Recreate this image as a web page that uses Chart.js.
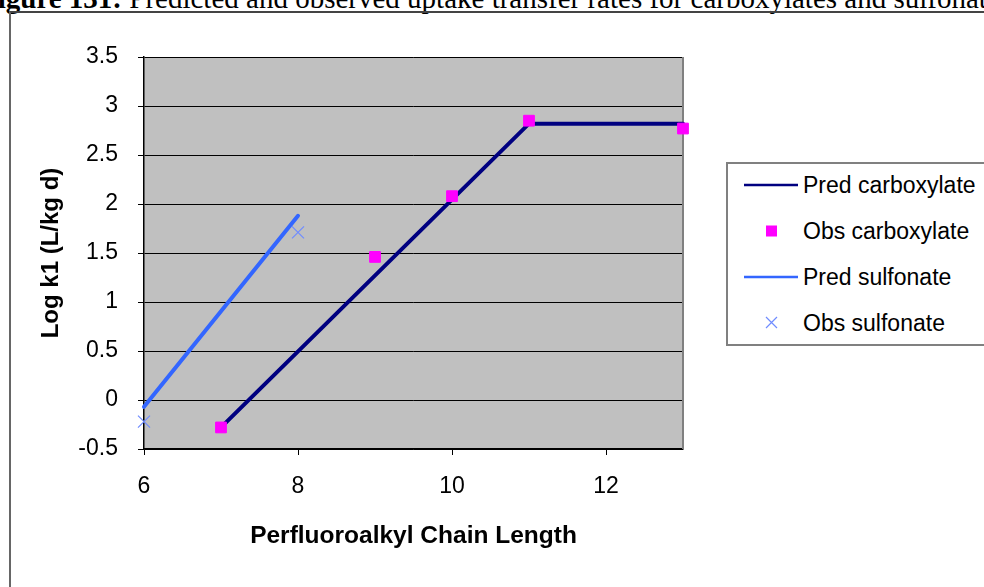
<!DOCTYPE html>
<html>
<head>
<meta charset="utf-8">
<script src="https://cdn.jsdelivr.net/npm/chart.js@4/dist/chart.umd.min.js"></script>
<style>
  html, body { margin: 0; padding: 0; background: #fff; }
  body { width: 984px; height: 587px; position: relative; overflow: hidden; }
  #caption {
    position: absolute; left: -20px; top: -17px; white-space: nowrap;
    font-family: "Liberation Serif", "Times New Roman", serif;
    font-size: 29px; line-height: 30px; color: #000;
  }
  #frame {
    position: absolute; left: 9px; top: 11px; width: 1200px; height: 800px;
    border-left: 2px solid #666; border-top: 2px solid #444;
  }
  #wrap { position: absolute; left: 0; top: 0; width: 984px; height: 587px; }
  #legend {
    position: absolute; left: 726px; top: 162px; width: 300px; height: 180px;
    border: 2px solid #808080; background: #fff;
    font-family: "Liberation Sans", Arial, sans-serif; font-size: 23px; color: #000;
  }
  .item { position: absolute; left: 0; height: 30px; width: 300px; }
  .item .sym { position: absolute; left: 15px; top: 0; width: 56px; height: 30px; }
  .item .txt { position: absolute; left: 75px; top: 0; line-height: 30px; white-space: nowrap; }
</style>
</head>
<body>
<div id="caption"><b>Figure 131:</b> Predicted and observed uptake transfer rates for carboxylates and sulfonates</div>
<div id="frame"></div>
<div id="wrap"><canvas id="chart" width="984" height="587"></canvas></div>
<div id="legend"></div>
<script>
// chart values
const seriesLabels = ["Pred carboxylate", "Obs carboxylate", "Pred sulfonate", "Obs sulfonate"];
const xTicks = [6, 8, 10, 12];

const predCarbX = [7, 11, 13];
const predCarbY = [-0.28, 2.82, 2.82];

const obsCarbX = [7, 9, 10, 11, 13];
const obsCarbY = [-0.28, 1.46, 2.08, 2.85, 2.77];

const predSulfX = [6, 8];
const predSulfY = [-0.07, 1.88];

const obsSulfX = [6, 8];
const obsSulfY = [-0.22, 1.71];

const toPoints = (xs, ys) => xs.map((x, i) => ({ x: x, y: ys[i] }));

Chart.defaults.font.family = "'Liberation Sans', Arial, sans-serif";
Chart.defaults.color = "#000";

// grey plot area and right border, like the spreadsheet chart
const plotBackground = {
  id: "plotBackground",
  beforeDraw(chart) {
    const { ctx, chartArea: a } = chart;
    ctx.save();
    ctx.fillStyle = "#C0C0C0";
    ctx.fillRect(a.left, a.top, a.right - a.left, a.bottom - a.top);
    ctx.restore();
  },
  beforeDatasetsDraw(chart) {
    const { ctx, chartArea: a } = chart;
    ctx.save();
    ctx.strokeStyle = "#808080";
    ctx.lineWidth = 2;
    ctx.beginPath();
    ctx.moveTo(a.right, a.top);
    ctx.lineTo(a.right, a.bottom);
    ctx.stroke();
    ctx.restore();
  },
};

const datasets = [
  {
    label: seriesLabels[0],
    data: toPoints(predCarbX, predCarbY),
    showLine: true,
    borderColor: "#000080",
    backgroundColor: "#000080",
    borderWidth: 4,
    borderCapStyle: "round",
    pointRadius: 0,
    clip: false,
    order: 2,
  },
  {
    label: seriesLabels[1],
    data: toPoints(obsCarbX, obsCarbY),
    showLine: false,
    pointStyle: "rect",
    pointRadius: 7.6,
    pointBackgroundColor: "#FF00FF",
    pointBorderColor: "#FF00FF",
    pointBorderWidth: 1,
    clip: false,
    order: 1,
  },
  {
    label: seriesLabels[2],
    data: toPoints(predSulfX, predSulfY),
    showLine: true,
    borderColor: "#3366FF",
    backgroundColor: "#3366FF",
    borderWidth: 4,
    borderCapStyle: "round",
    pointRadius: 0,
    clip: false,
    order: 2,
  },
  {
    label: seriesLabels[3],
    data: toPoints(obsSulfX, obsSulfY),
    showLine: false,
    pointStyle: "crossRot",
    pointRadius: 8.5,
    pointBorderColor: "#6F8CFF",
    pointBorderWidth: 1.2,
    clip: false,
    order: 1,
  },
];

const chart = new Chart(document.getElementById("chart").getContext("2d"), {
  type: "scatter",
  data: { datasets: datasets },
  plugins: [plotBackground],
  options: {
    responsive: false,
    animation: false,
    layout: { padding: { top: 57, right: 301, bottom: 0, left: 0 } },
    plugins: { legend: { display: false }, tooltip: { enabled: false } },
    scales: {
      x: {
        type: "linear",
        min: 6,
        max: 13,
        afterBuildTicks: (scale) => {
          scale.ticks = xTicks.map((v) => ({ value: v }));
        },
        afterFit: (scale) => {
          scale.height = 138;
        },
        grid: { drawOnChartArea: false, color: "#000", tickLength: 6 },
        border: { color: "#000", width: 1.5 },
        ticks: { font: { size: 23 }, padding: 18, maxRotation: 0 },
        title: {
          display: true,
          text: "Perfluoroalkyl Chain Length",
          font: { size: 24.5, weight: "bold" },
          padding: { top: 0, bottom: 36 },
        },
      },
      y: {
        type: "linear",
        min: -0.5,
        max: 3.5,
        afterFit: (scale) => {
          scale.width = 144;
        },
        grid: { color: "#000", lineWidth: 1, tickLength: 6 },
        border: { color: "#000", width: 1.5 },
        ticks: {
          stepSize: 0.5,
          font: { size: 23 },
          padding: 20,
          callback: (v) => String(Math.round(v * 10) / 10),
        },
        title: {
          display: true,
          text: "Log k1 (L/kg d)",
          font: { size: 24, weight: "bold" },
          padding: { top: 37, bottom: 0 },
        },
      },
    },
  },
});

// legend built from the chart's own datasets, in series order
function buildLegend(chart) {
  const box = document.getElementById("legend");
  const rowTops = [6, 52, 98, 144];
  seriesLabels.forEach((label, i) => {
    const ds = chart.data.datasets.find((d) => d.label === label);
    const item = document.createElement("div");
    item.className = "item";
    item.style.top = rowTops[i] + "px";
    let sym;
    if (ds.showLine) {
      sym = '<svg class="sym" width="56" height="30"><line x1="1" y1="15" x2="55" y2="15" stroke="' +
        ds.borderColor + '" stroke-width="2.5"/></svg>';
    } else if (ds.pointStyle === "rect") {
      sym = '<svg class="sym" width="56" height="30"><rect x="23" y="9.5" width="11" height="11" fill="' +
        ds.pointBackgroundColor + '"/></svg>';
    } else {
      sym = '<svg class="sym" width="56" height="30"><path d="M23 9 L34 20 M34 9 L23 20" stroke="' +
        ds.pointBorderColor + '" stroke-width="1.2"/></svg>';
    }
    item.innerHTML = sym + '<span class="txt">' + label + "</span>";
    box.appendChild(item);
  });
}
buildLegend(chart);
</script>
</body>
</html>
